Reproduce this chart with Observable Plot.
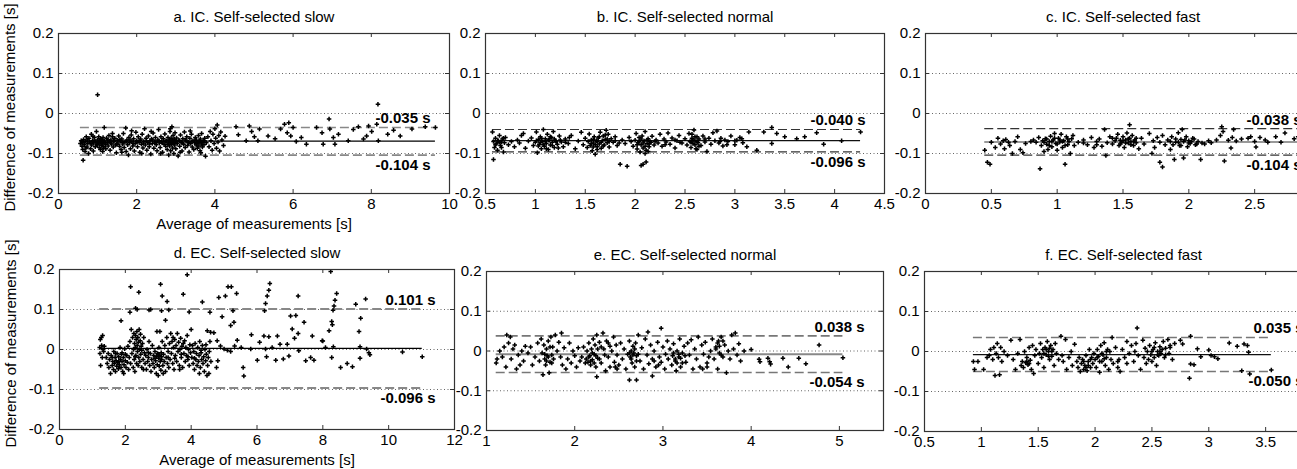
<!DOCTYPE html>
<html><head><meta charset="utf-8">
<script src="https://cdn.jsdelivr.net/npm/d3@7"></script>
<script src="https://cdn.jsdelivr.net/npm/@observablehq/plot@0.6"></script>
<style>
html,body{margin:0;padding:0;background:#fff;overflow:hidden;}
#fig{position:relative;width:1297px;height:469px;overflow:hidden;font-family:"Liberation Sans",Arial,sans-serif;}
#fig svg{position:absolute;overflow:visible;}
</style></head><body><div id="fig"></div>
<script>
// ---------- data ----------
const titles = ["a. IC. Self-selected slow","b. IC. Self-selected normal","c. IC. Self-selected fast",
                "d. EC. Self-selected slow","e. EC. Self-selected normal","f. EC. Self-selected fast"];
const xDomains = [[0,10],[0.5,4.5],[0,3],[0,12],[1,5.5],[0.5,4]];
const xTicks = [[0,2,4,6,8,10],[0.5,1,1.5,2,2.5,3,3.5,4,4.5],[0,0.5,1,1.5,2,2.5,3],
                [0,2,4,6,8,10,12],[1,2,3,4,5],[0.5,1,1.5,2,2.5,3,3.5,4]];
const yTicks = [-0.2,-0.1,0,0.1,0.2];
const gridY = [-0.1,0,0.1];
const upperLoA = [-0.035,-0.040,-0.038,0.101,0.038,0.035];
const lowerLoA = [-0.104,-0.096,-0.104,-0.096,-0.054,-0.050];
const meanDiff = [-0.069,-0.068,-0.071,0.003,-0.008,-0.008];
const upperText = ["-0.035 s","-0.040 s","-0.038 s","0.101 s","0.038 s","0.035 s"];
const lowerText = ["-0.104 s","-0.096 s","-0.104 s","-0.096 s","-0.054 s","-0.050 s"];
const yLabel = "Difference of measurements [s]";
const xLabel = "Average of measurements [s]";

const ptsA = [[1.0,0.047],
[0.56,-0.075],[0.58,-0.068],[0.6,-0.082],[0.61,-0.072],[0.62,-0.09],[0.63,-0.117],[0.64,-0.065],[0.66,-0.078],[0.68,-0.095],[0.7,-0.07],[0.71,-0.058],[0.73,-0.084],[0.75,-0.075],[0.77,-0.1],[0.78,-0.062],[0.8,-0.071],[0.82,-0.088],[0.84,-0.052],[0.85,-0.079],[0.87,-0.068],[0.89,-0.094],[0.9,-0.074],[0.92,-0.06],[0.94,-0.083],[0.95,-0.07],[0.97,-0.045],[0.98,-0.077],[1.0,-0.066],
[1.02,-0.072],[1.03,-0.058],[1.04,-0.085],[1.05,-0.068],[1.06,-0.076],[1.07,-0.09],[1.08,-0.063],[1.09,-0.07],[1.1,-0.08],[1.11,-0.066],[1.12,-0.074],[1.13,-0.095],[1.14,-0.06],[1.15,-0.071],[1.16,-0.083],[1.17,-0.035],[1.18,-0.069],[1.2,-0.077],[1.21,-0.088],[1.23,-0.062],[1.25,-0.073],[1.27,-0.081],[1.29,-0.055],[1.3,-0.069],[1.32,-0.092],[1.34,-0.066],[1.36,-0.076],[1.38,-0.058],[1.4,-0.084],[1.42,-0.07],[1.44,-0.062],[1.46,-0.079],[1.48,-0.098],[1.5,-0.067],
[1.52,-0.074],[1.54,-0.056],[1.56,-0.082],[1.58,-0.069],[1.6,-0.09],[1.62,-0.064],[1.64,-0.076],[1.66,-0.05],[1.68,-0.085],[1.7,-0.071],[1.72,-0.036],[1.73,-0.095],[1.75,-0.066],[1.77,-0.078],[1.79,-0.104],[1.8,-0.06],[1.82,-0.073],[1.84,-0.088],[1.86,-0.054],[1.88,-0.07],[1.9,-0.081],[1.92,-0.063],[1.94,-0.094],[1.96,-0.075],[1.98,-0.047],
[2.0,-0.068],[2.02,-0.083],[2.04,-0.058],[2.06,-0.072],[2.08,-0.097],[2.1,-0.064],[2.12,-0.077],[2.14,-0.052],[2.16,-0.086],[2.18,-0.07],[2.2,-0.038],[2.22,-0.079],[2.24,-0.062],[2.26,-0.092],[2.28,-0.073],[2.3,-0.056],[2.32,-0.083],[2.34,-0.068],[2.36,-0.101],[2.38,-0.064],[2.4,-0.075],[2.42,-0.049],[2.44,-0.087],[2.46,-0.071],[2.48,-0.06],
[2.5,-0.078],[2.52,-0.093],[2.54,-0.066],[2.56,-0.04],[2.58,-0.074],[2.6,-0.085],[2.62,-0.058],[2.64,-0.07],[2.66,-0.097],[2.68,-0.063],[2.7,-0.077],[2.72,-0.051],[2.74,-0.082],[2.76,-0.068],[2.78,-0.09],[2.8,-0.06],[2.81,-0.074],[2.82,-0.104],[2.83,-0.066],[2.84,-0.081],[2.85,-0.045],[2.86,-0.071],[2.87,-0.093],[2.88,-0.062],[2.89,-0.077],[2.9,-0.033],[2.91,-0.069],[2.92,-0.086],[2.93,-0.055],[2.94,-0.073],[2.95,-0.1],[2.96,-0.064],[2.97,-0.079],[2.98,-0.048],[2.99,-0.07],
[3.0,-0.088],[3.02,-0.061],[3.04,-0.075],[3.06,-0.106],[3.08,-0.067],[3.1,-0.082],[3.12,-0.054],[3.14,-0.072],[3.16,-0.094],[3.18,-0.063],[3.2,-0.077],[3.22,-0.046],[3.24,-0.085],[3.26,-0.069],[3.28,-0.058],[3.3,-0.08],[3.32,-0.071],[3.34,-0.096],[3.36,-0.062],[3.38,-0.075],[3.4,-0.052],[3.42,-0.084],[3.44,-0.068],[3.46,-0.09],[3.48,-0.073],
[3.5,-0.06],[3.52,-0.079],[3.53,-0.067],[3.55,-0.087],[3.56,-0.072],[3.58,-0.055],[3.59,-0.081],[3.6,-0.07],[3.62,-0.093],[3.63,-0.064],[3.65,-0.076],[3.66,-0.05],[3.68,-0.084],[3.7,-0.068],[3.72,-0.078],[3.74,-0.062],[3.76,-0.107],[3.78,-0.073],
[3.82,-0.058],[3.85,-0.083],[3.88,-0.045],[3.9,-0.068],[3.93,-0.092],[3.95,-0.052],[3.98,-0.075],[4.0,-0.038],[4.02,-0.062],[4.04,-0.087],[4.06,-0.029],[4.08,-0.071],[4.1,-0.055],[4.12,-0.094],[4.15,-0.046],[4.18,-0.066],[4.22,-0.08],[4.26,-0.057],
[0.65,-0.071],[0.74,-0.066],[0.83,-0.075],[0.91,-0.068],[0.99,-0.079],[1.06,-0.07],[1.12,-0.067],[1.19,-0.073],[1.26,-0.066],[1.33,-0.074],[1.41,-0.069],[1.49,-0.077],[1.57,-0.065],[1.65,-0.072],[1.74,-0.07],[1.83,-0.066],[1.91,-0.075],[2.01,-0.071],[2.09,-0.067],[2.17,-0.074],[2.25,-0.069],[2.33,-0.076],[2.41,-0.066],[2.49,-0.072],[2.57,-0.068],[2.65,-0.074],[2.73,-0.07],[2.8,-0.077],[2.84,-0.068],[2.88,-0.072],[2.92,-0.066],[2.96,-0.075],[3.01,-0.07],[3.09,-0.068],[3.17,-0.074],[3.25,-0.066],[3.33,-0.073],[3.41,-0.07],[3.49,-0.067],[3.54,-0.075],[3.61,-0.069],[3.67,-0.073],[3.73,-0.068],[0.7,-0.086],[0.88,-0.057],[1.15,-0.087],[1.38,-0.05],[1.62,-0.097],[1.87,-0.043],[2.13,-0.1],[2.37,-0.045],[2.61,-0.1],[2.86,-0.038],[3.11,-0.097],[3.37,-0.044],[3.64,-0.098],
[4.54,-0.033],[4.6,-0.053],[4.8,-0.068],[4.88,-0.031],[4.94,-0.045],[5.01,-0.058],[5.1,-0.068],[5.14,-0.039],[5.36,-0.056],[5.54,-0.063],[5.68,-0.039],[5.78,-0.027],[5.85,-0.048],[5.89,-0.023],[5.94,-0.056],[6.0,-0.035],[6.08,-0.07],[6.21,-0.06],[6.34,-0.077],[6.6,-0.035],[6.74,-0.048],[6.77,-0.077],[6.92,-0.014],[6.94,-0.039],[7.03,-0.06],[7.07,-0.077],[7.16,-0.052],[7.41,-0.068],[7.54,-0.04],[7.67,-0.033],[7.8,-0.064],[7.88,-0.056],[7.93,-0.031],[8.01,-0.045],[8.14,-0.027],[8.17,0.023],[8.18,-0.068],[8.42,-0.052],[8.57,-0.042],[8.74,-0.056],[9.04,-0.039],[9.38,-0.033],[9.64,-0.035]];

const ptsB = [[0.58,-0.115],
[0.57,-0.046],[0.58,-0.07],[0.59,-0.085],[0.6,-0.062],[0.61,-0.075],[0.62,-0.092],[0.63,-0.068],[0.64,-0.055],[0.65,-0.08],[0.66,-0.071],[0.67,-0.064],[0.68,-0.096],[0.69,-0.073],[0.7,-0.06],[0.73,-0.078],[0.76,-0.07],[0.79,-0.083],[0.82,-0.066],[0.84,-0.074],[0.86,-0.055],[0.88,-0.05],[0.9,-0.087],[0.93,-0.069],[0.96,-0.061],[0.98,-0.08],[1.0,-0.072],[1.01,-0.046],[1.02,-0.098],[1.03,-0.065],[1.04,-0.077],[1.05,-0.058],[1.06,-0.088],[1.07,-0.07],[1.08,-0.04],[1.09,-0.082],[1.1,-0.063],[1.11,-0.075],[1.12,-0.052],[1.13,-0.09],[1.14,-0.067],[1.15,-0.079],[1.16,-0.06],[1.17,-0.072],[1.18,-0.045],[1.19,-0.085],[1.2,-0.068],[1.22,-0.077],[1.24,-0.056],[1.26,-0.071],[1.28,-0.083],[1.3,-0.064],[1.33,-0.075],[1.36,-0.055],[1.4,-0.088],[1.43,-0.069],[1.46,-0.047],[1.48,-0.078],[1.5,-0.062],[1.52,-0.085],[1.53,-0.07],[1.54,-0.051],[1.55,-0.08],[1.56,-0.066],[1.57,-0.093],[1.58,-0.074],[1.59,-0.058],[1.6,-0.102],[1.61,-0.069],[1.62,-0.083],[1.63,-0.061],[1.64,-0.076],[1.65,-0.047],[1.66,-0.087],[1.67,-0.068],[1.68,-0.056],[1.69,-0.079],[1.7,-0.065],[1.71,-0.042],[1.72,-0.073],[1.73,-0.052],[1.74,-0.084],[1.76,-0.063],[1.78,-0.072],[1.8,-0.058],[1.82,-0.08],[1.85,-0.127],[1.87,-0.066],[1.9,-0.075],[1.92,-0.132],[1.94,-0.06],[1.96,-0.07],[1.98,-0.082],[2.0,-0.067],[2.01,-0.05],[2.02,-0.089],[2.03,-0.073],[2.04,-0.06],[2.05,-0.096],[2.06,-0.13],[2.06,-0.078],[2.07,-0.056],[2.08,-0.127],[2.08,-0.086],[2.09,-0.069],[2.1,-0.045],[2.11,-0.121],[2.11,-0.092],[2.12,-0.075],[2.13,-0.063],[2.14,-0.083],[2.15,-0.07],[2.17,-0.057],[2.19,-0.079],[2.21,-0.066],[2.23,-0.074],[2.25,-0.052],[2.27,-0.082],[2.29,-0.064],[2.31,-0.071],[2.33,-0.049],[2.35,-0.077],[2.37,-0.061],[2.4,-0.086],[2.42,-0.068],[2.44,-0.055],[2.47,-0.074],[2.5,-0.063],[2.52,-0.079],[2.54,-0.05],[2.55,-0.07],[2.56,-0.085],[2.57,-0.062],[2.58,-0.075],[2.59,-0.041],[2.6,-0.068],[2.61,-0.088],[2.62,-0.058],[2.63,-0.073],[2.64,-0.064],[2.66,-0.08],[2.68,-0.056],[2.7,-0.071],[2.72,-0.095],[2.74,-0.062],[2.76,-0.077],[2.78,-0.048],[2.8,-0.068],[2.82,-0.044],[2.84,-0.074],[2.86,-0.062],[2.88,-0.081],[2.9,-0.066],[2.93,-0.07],[2.96,-0.056],[3.0,-0.078],[3.02,-0.067],[3.05,-0.06],[3.07,-0.063],[3.08,-0.073],[3.12,-0.083],[3.14,-0.046],[3.22,-0.092],[3.29,-0.046],[3.37,-0.035],[3.37,-0.075],[3.42,-0.05],[3.5,-0.058],[3.62,-0.063],[3.7,-0.058],[3.82,-0.048],[3.89,-0.077],[4.07,-0.068],[4.26,-0.046],
[1.01,-0.068],[1.03,-0.081],[1.05,-0.072],[1.06,-0.062],[1.08,-0.078],[1.1,-0.07],[1.11,-0.088],[1.13,-0.066],[1.15,-0.058],[1.17,-0.08],[1.19,-0.064],[1.21,-0.07],[1.23,-0.086],[1.25,-0.066],[1.56,-0.075],[1.58,-0.065],[1.6,-0.078],[1.62,-0.07],[1.64,-0.058],[1.66,-0.072],[1.68,-0.081],[1.7,-0.054],[1.72,-0.064],[1.74,-0.07],[1.62,-0.09],[1.58,-0.084],[2.02,-0.078],[2.04,-0.07],[2.06,-0.064],[2.08,-0.074],[2.1,-0.082],[2.12,-0.066],[2.14,-0.076],[2.1,-0.1],[2.13,-0.095],[2.16,-0.072],[2.56,-0.072],[2.58,-0.066],[2.6,-0.078],[2.62,-0.07],[2.64,-0.082],[2.6,-0.058],[2.57,-0.052],[2.62,-0.09],[0.6,-0.078],[0.62,-0.068],[0.64,-0.072],[0.66,-0.085],[0.68,-0.062],[1.3,-0.072],[1.34,-0.06],[1.8,-0.068],[1.84,-0.074],[2.2,-0.07],[2.3,-0.078],[2.4,-0.066],[2.45,-0.072],[2.7,-0.064],[2.85,-0.07],[2.92,-0.078],[3.0,-0.068]];

const ptsC = [[0.45,-0.092],[0.47,-0.122],[0.49,-0.127],[0.5,-0.072],[0.53,-0.085],[0.55,-0.062],[0.57,-0.076],[0.59,-0.068],[0.6,-0.088],[0.61,-0.065],[0.63,-0.072],[0.64,-0.08],[0.66,-0.1],[0.68,-0.07],[0.7,-0.058],[0.72,-0.09],[0.74,-0.098],[0.76,-0.075],[0.82,-0.066],[0.84,-0.072],[0.86,-0.06],[0.87,-0.138],[0.88,-0.08],[0.89,-0.068],[0.9,-0.095],[0.91,-0.063],[0.92,-0.077],[0.93,-0.09],[0.94,-0.07],[0.95,-0.057],[0.96,-0.083],[0.97,-0.066],[0.98,-0.05],[0.99,-0.075],[1.0,-0.092],[1.01,-0.062],[1.02,-0.071],[1.03,-0.052],[1.04,-0.085],[1.05,-0.068],[1.06,-0.127],[1.07,-0.058],[1.08,-0.078],[1.09,-0.07],[1.1,-0.1],[1.11,-0.063],[1.12,-0.055],[1.13,-0.08],[1.16,-0.072],[1.2,-0.066],[1.23,-0.078],[1.26,-0.06],[1.28,-0.085],[1.3,-0.07],[1.32,-0.064],[1.34,-0.082],[1.36,-0.04],[1.37,-0.105],[1.38,-0.073],[1.4,-0.058],[1.42,-0.076],[1.44,-0.068],[1.45,-0.062],[1.46,-0.052],[1.47,-0.08],[1.48,-0.067],[1.49,-0.072],[1.5,-0.058],[1.51,-0.085],[1.52,-0.066],[1.53,-0.049],[1.54,-0.074],[1.55,-0.028],[1.55,-0.062],[1.56,-0.07],[1.57,-0.055],[1.58,-0.08],[1.59,-0.066],[1.6,-0.073],[1.62,-0.088],[1.64,-0.062],[1.66,-0.076],[1.7,-0.05],[1.72,-0.1],[1.73,-0.068],[1.74,-0.085],[1.76,-0.06],[1.78,-0.122],[1.78,-0.072],[1.8,-0.134],[1.8,-0.055],[1.82,-0.078],[1.84,-0.066],[1.86,-0.09],[1.87,-0.058],[1.89,-0.115],[1.9,-0.072],[1.92,-0.048],[1.93,-0.08],[1.94,-0.065],[1.95,-0.04],[1.96,-0.111],[1.96,-0.07],[1.98,-0.058],[1.99,-0.083],[2.0,-0.068],[2.01,-0.075],[2.03,-0.062],[2.05,-0.078],[2.07,-0.07],[2.09,-0.115],[2.1,-0.074],[2.12,-0.076],[2.17,-0.073],[2.21,-0.066],[2.24,-0.055],[2.25,-0.033],[2.26,-0.045],[2.27,-0.119],[2.3,-0.067],[2.32,-0.086],[2.33,-0.06],[2.34,-0.04],[2.36,-0.069],[2.45,-0.062],[2.47,-0.058],[2.5,-0.07],[2.51,-0.084],[2.54,-0.06],[2.6,-0.072],[2.66,-0.058],[2.73,-0.049],[2.8,-0.063],[2.83,-0.058],[2.86,-0.055],[2.88,-0.065],[2.9,-0.06],
[0.9,-0.072],[0.92,-0.064],[0.94,-0.08],[0.96,-0.07],[0.98,-0.062],[1.0,-0.076],[1.02,-0.066],[1.04,-0.07],[1.06,-0.08],[1.08,-0.064],[1.48,-0.076],[1.5,-0.068],[1.52,-0.074],[1.54,-0.064],[1.56,-0.078],[1.58,-0.07],[1.6,-0.062],[1.86,-0.07],[1.88,-0.078],[1.9,-0.064],[1.92,-0.072],[1.94,-0.08],[1.97,-0.066],[2.0,-0.074],[2.02,-0.07],[2.04,-0.064],[2.06,-0.076],[1.42,-0.062],[1.3,-0.078],[1.2,-0.074],[0.8,-0.07],[2.15,-0.068],[2.4,-0.064],[2.58,-0.066],[2.7,-0.072]];

const ptsD = [[1.22,0.005],[1.23,-0.01],[1.24,0.025],[1.25,-0.04],[1.27,0.03],[1.28,0.01],[1.3,-0.02],[1.31,0.035],[1.32,0.0],[1.34,-0.005],[1.36,0.008],
[1.42,-0.02],[1.45,-0.035],[1.48,-0.01],[1.5,-0.045],[1.52,-0.025],[1.55,-0.06],[1.57,-0.015],[1.6,-0.04],[1.62,-0.03],[1.64,-0.05],[1.65,-0.005],[1.67,-0.035],[1.69,-0.02],[1.7,-0.055],[1.72,-0.028],[1.74,-0.042],[1.75,-0.01],[1.77,-0.032],[1.79,-0.048],[1.8,-0.018],[1.82,-0.038],[1.84,0.005],[1.85,-0.025],[1.87,-0.045],[1.88,-0.012],[1.9,-0.03],[1.92,-0.055],[1.94,-0.02],[1.96,-0.038],[1.98,0.002],[2.0,-0.028],[2.02,-0.045],[2.04,-0.015],[2.06,-0.032],[2.08,0.008],[2.1,-0.05],
[2.12,-0.02],[2.14,0.02],[2.16,-0.035],[2.18,0.05],[2.2,-0.01],[2.22,0.03],[2.24,-0.045],[2.25,0.0],[2.26,0.04],[2.27,-0.025],[2.28,0.015],[2.29,-0.055],[2.3,0.005],[2.31,0.035],[2.32,-0.015],[2.33,0.025],[2.34,-0.035],[2.35,0.045],[2.36,0.01],[2.37,-0.005],[2.38,0.03],[2.39,-0.04],[2.4,0.018],[2.41,-0.02],[2.42,0.05],[2.43,0.0],[2.44,-0.03],[2.45,0.022],[2.46,0.038],[2.47,-0.012],[2.48,0.008],[2.5,-0.045],[2.52,0.015],[2.54,-0.025],[2.56,0.03],[2.58,-0.008],[2.6,-0.035],
[2.62,-0.015],[2.64,-0.05],[2.66,0.0],[2.68,-0.03],[2.7,-0.02],[2.72,0.02],[2.74,-0.04],[2.76,-0.01],[2.78,-0.055],[2.8,-0.025],[2.82,0.01],[2.84,-0.035],[2.86,-0.015],[2.88,-0.045],[2.9,-0.005],[2.92,-0.028],[2.94,-0.06],[2.95,-0.018],[2.96,0.045],[2.97,-0.038],[2.98,-0.01],[3.0,-0.065],[3.01,-0.022],[3.02,0.005],[3.03,-0.042],[3.04,-0.015],[3.05,0.045],[3.06,-0.03],[3.08,-0.052],[3.09,-0.008],[3.1,-0.025],[3.12,0.02],[3.14,-0.04],[3.16,-0.012],[3.18,-0.03],[3.2,0.01],[3.22,-0.055],[3.24,-0.02],[3.26,0.03],[3.28,-0.035],[3.3,-0.005],[3.32,-0.045],[3.34,0.015],[3.36,-0.025],[3.38,0.04],
[3.4,-0.01],[3.42,0.02],[3.44,-0.035],[3.46,0.005],[3.48,-0.05],[3.5,0.025],[3.52,-0.015],[3.54,0.01],[3.56,-0.03],[3.58,0.04],[3.6,-0.005],[3.62,0.018],[3.64,-0.04],[3.66,0.0],[3.68,0.028],[3.7,-0.02],[3.72,0.008],[3.74,-0.045],[3.76,0.015],[3.78,-0.01],[3.8,0.022],[3.82,-0.03],[3.84,0.005],[3.86,-0.015],[3.88,0.035],[3.9,-0.025],[3.92,0.0],[3.94,-0.04],[3.96,0.012],[3.98,-0.008],[4.0,0.05],
[4.02,-0.02],[4.04,0.01],[4.06,-0.035],[4.08,-0.005],[4.1,-0.05],[4.12,0.015],[4.14,-0.025],[4.16,-0.01],[4.18,-0.04],[4.2,0.005],[4.22,-0.03],[4.24,-0.015],[4.26,0.02],[4.28,-0.045],[4.3,-0.008],[4.32,-0.025],[4.34,0.01],[4.36,-0.035],[4.38,-0.018],[4.4,-0.055],[4.42,0.0],[4.44,-0.028],[4.46,-0.012],[4.48,-0.065],[4.5,-0.04],[4.52,-0.02],[4.54,-0.06],[4.55,-0.005],[4.57,0.02],[4.6,-0.03],
[1.6,-0.02],[1.7,-0.01],[1.8,-0.03],[1.9,-0.008],[2.0,-0.012],[2.3,-0.018],[2.5,-0.002],[2.7,-0.008],[2.9,-0.022],[3.0,-0.012],[3.1,-0.018],[3.3,-0.02],[3.5,-0.022],[3.7,-0.012],[3.9,-0.018],[4.1,-0.022],[4.3,-0.002],[4.45,0.012],[3.15,-0.06],[2.55,-0.05],[1.95,-0.06],[3.45,0.03],[3.65,-0.05],[4.25,-0.06],
[1.87,0.072],[2.16,0.157],[2.14,0.093],[2.31,0.103],[2.36,0.1],[2.41,0.143],[2.72,0.099],[2.77,0.1],[3.07,0.163],[3.12,0.134],[3.1,0.097],[3.27,0.12],[3.32,0.099],[3.22,0.073],[3.76,0.138],[3.88,0.187],[3.94,0.094],[4.34,0.119],[4.57,0.093],[4.84,0.13],[4.94,0.082],[5.04,0.134],[5.12,0.157],[5.22,0.157],[5.27,0.097],[5.38,0.14],[5.2,0.06],[5.3,0.068],[5.4,0.023],[5.52,0.005],[5.58,-0.045],[5.6,-0.066],[5.83,0.037],[5.81,0.001],[6.01,-0.027],[6.08,0.018],[6.21,0.034],[6.26,0.115],[6.23,0.097],[6.31,0.134],[6.36,0.148],[6.39,0.165],[6.26,0.001],[6.29,-0.018],[6.36,0.032],[6.46,0.005],[6.57,-0.027],[6.62,0.034],[6.8,-0.024],[6.7,0.013],[6.92,0.013],[6.97,-0.016],[7.02,0.084],[7.07,0.051],[7.14,0.028],[7.18,0.085],[7.25,0.134],[7.25,0.04],[7.27,-0.003],[7.43,0.068],[7.48,-0.028],[7.63,-0.02],[7.68,0.034],[7.73,-0.027],[7.98,0.022],[8.0,0.021],[8.08,0.005],[8.19,0.047],[8.24,0.195],[8.27,0.07],[8.29,0.062],[8.31,0.098],[8.34,0.109],[8.37,0.123],[8.42,0.14],[8.27,-0.02],[8.32,0.007],[8.74,-0.035],[8.54,-0.045],[8.9,-0.043],[9.0,0.113],[9.3,0.126],[9.1,0.045],[9.13,0.007],[9.15,0.078],[9.13,-0.022],[9.33,0.001],[9.4,-0.008],[9.43,-0.013],[10.42,-0.006],[11.02,-0.018],
[4.59,0.043],[4.69,0.042],[4.79,0.022],[4.89,0.009],[4.77,-0.045],[4.81,-0.028],[4.49,0.047],[5.0,0.001],[5.1,-0.002],[5.2,-0.005],[5.32,0.009]];

const ptsE = [[1.11,-0.03],[1.12,-0.02],[1.15,0.0],[1.18,-0.015],[1.2,0.01],[1.22,-0.04],[1.23,0.04],[1.25,0.02],[1.27,0.035],[1.28,-0.02],[1.3,0.005],[1.32,0.015],[1.34,-0.045],[1.36,-0.01],[1.38,-0.035],[1.4,0.0],[1.42,-0.025],[1.44,0.012],[1.47,-0.005],[1.5,0.01],[1.52,-0.035],[1.55,-0.015],[1.58,0.02],[1.6,-0.025],[1.62,0.03],[1.63,-0.005],[1.64,-0.06],[1.65,0.015],[1.66,-0.02],[1.67,-0.035],[1.68,0.005],[1.69,-0.012],[1.7,0.025],[1.71,-0.055],[1.72,-0.028],[1.73,0.035],[1.74,-0.01],[1.75,0.01],[1.76,-0.02],[1.78,0.04],[1.8,0.0],[1.82,0.022],[1.84,-0.015],[1.85,0.045],[1.86,-0.035],[1.88,0.008],[1.9,-0.045],[1.92,-0.02],[1.94,0.02],[1.96,-0.03],[1.98,0.0],[2.0,-0.012],[2.02,-0.04],[2.04,0.008],[2.06,-0.025],[2.08,-0.015],[2.1,0.01],[2.12,-0.03],[2.13,-0.02],[2.14,0.0],[2.15,-0.028],[2.16,0.02],[2.17,-0.012],[2.18,-0.035],[2.19,0.005],[2.2,-0.022],[2.21,0.03],[2.22,-0.008],[2.23,0.015],[2.24,-0.04],[2.25,0.04],[2.25,-0.065],[2.26,-0.018],[2.28,0.022],[2.3,-0.03],[2.32,0.045],[2.33,0.005],[2.35,-0.05],[2.36,0.025],[2.38,-0.015],[2.4,-0.04],[2.42,0.0],[2.44,0.035],[2.45,-0.028],[2.47,0.015],[2.48,-0.01],[2.5,-0.035],[2.52,0.02],[2.54,-0.02],[2.56,0.005],[2.58,-0.045],[2.6,-0.008],[2.62,0.025],[2.62,-0.073],[2.63,-0.015],[2.64,0.0],[2.65,-0.03],[2.66,0.012],[2.67,-0.005],[2.68,-0.04],[2.69,0.02],[2.7,-0.073],[2.7,-0.012],[2.72,0.04],[2.74,-0.025],[2.76,0.008],[2.78,-0.045],[2.8,0.03],[2.82,-0.01],[2.83,0.048],[2.84,-0.032],[2.86,0.015],[2.88,-0.063],[2.88,-0.02],[2.9,0.0],[2.92,-0.04],[2.94,0.022],[2.96,-0.015],[2.98,0.057],[2.98,-0.028],[3.0,0.01],[3.02,-0.045],[3.03,-0.008],[3.05,0.025],[3.06,-0.02],[3.08,0.005],[3.1,-0.035],[3.11,-0.012],[3.12,0.018],[3.14,-0.025],[3.15,-0.05],[3.16,0.0],[3.18,-0.015],[3.19,0.03],[3.2,-0.04],[3.22,-0.005],[3.24,0.012],[3.26,-0.028],[3.28,0.02],[3.3,-0.01],[3.32,0.028],[3.34,-0.045],[3.36,0.005],[3.38,-0.02],[3.4,0.035],[3.42,-0.04],[3.44,0.015],[3.46,-0.008],[3.48,0.022],[3.5,-0.03],[3.52,-0.015],[3.54,0.0],[3.56,0.03],[3.58,-0.02],[3.6,0.01],[3.62,-0.045],[3.63,0.025],[3.64,-0.005],[3.66,0.035],[3.68,-0.015],[3.7,0.015],[3.72,-0.055],[3.74,0.0],[3.76,-0.02],[3.78,0.04],[3.8,0.005],[3.82,0.045],[3.84,-0.01],[3.86,0.018],[3.88,-0.025],[3.92,0.0],
[4.0,0.004],[4.09,-0.021],[4.1,-0.027],[4.19,-0.018],[4.21,-0.027],[4.22,-0.033],[4.36,-0.018],[4.42,-0.04],[4.54,-0.018],[4.62,-0.032],[4.77,0.015],[5.04,-0.017],
[1.66,-0.008],[1.68,-0.025],[1.7,-0.015],[1.72,0.01],[1.74,-0.03],[2.16,-0.015],[2.18,-0.025],[2.2,-0.005],[2.22,-0.03],[2.24,-0.012],[2.26,0.005],[2.28,-0.02],[2.3,0.01],[2.34,-0.01],[2.38,0.02],[2.4,0.012],[2.46,-0.04],[2.48,-0.045],[2.62,-0.005],[2.64,-0.02],[2.66,-0.01],[2.68,0.005],[2.7,-0.025],[2.72,-0.008],[2.9,-0.025],[2.95,-0.035],[3.12,-0.005],[3.14,-0.02],[3.16,-0.03],[3.18,-0.008],[3.2,-0.018],[3.22,-0.03],[3.25,-0.012],[3.6,0.005],[3.62,0.02],[3.64,0.012],[3.66,-0.01],[3.68,0.025],[3.45,-0.045],[3.5,-0.04]];

const ptsF = [[0.93,-0.025],[0.94,-0.045],[0.97,-0.025],[1.02,-0.045],[1.05,-0.015],[1.07,-0.01],[1.08,0.005],[1.1,-0.02],[1.11,0.01],[1.12,-0.06],[1.13,-0.005],[1.14,0.02],[1.15,-0.015],[1.16,-0.058],[1.17,0.01],[1.18,-0.025],[1.2,0.0],[1.23,-0.01],[1.26,0.028],[1.28,-0.02],[1.3,-0.045],[1.32,-0.005],[1.34,0.03],[1.35,-0.035],[1.36,-0.025],[1.37,-0.04],[1.38,0.0],[1.39,-0.028],[1.4,-0.015],[1.41,-0.033],[1.42,0.01],[1.43,-0.022],[1.44,-0.045],[1.45,0.015],[1.46,-0.055],[1.47,-0.01],[1.48,0.005],[1.5,-0.03],[1.51,-0.005],[1.52,0.02],[1.53,-0.015],[1.54,0.005],[1.55,-0.04],[1.56,0.01],[1.57,-0.008],[1.58,0.025],[1.59,0.0],[1.6,-0.02],[1.61,0.015],[1.62,-0.012],[1.63,0.005],[1.64,-0.035],[1.65,0.02],[1.66,-0.005],[1.68,-0.02],[1.7,0.038],[1.71,-0.01],[1.72,-0.025],[1.74,0.03],[1.75,-0.045],[1.77,-0.015],[1.79,0.0],[1.8,-0.035],[1.82,0.018],[1.84,-0.025],[1.85,-0.04],[1.86,-0.015],[1.87,-0.05],[1.88,-0.03],[1.89,-0.02],[1.9,-0.045],[1.91,-0.035],[1.92,-0.01],[1.93,-0.048],[1.94,-0.025],[1.95,0.005],[1.96,-0.04],[1.97,-0.015],[1.98,-0.03],[1.99,-0.005],[2.0,-0.02],[2.01,-0.04],[2.02,0.005],[2.03,-0.012],[2.04,-0.052],[2.05,0.015],[2.06,-0.025],[2.07,-0.008],[2.08,0.022],[2.09,-0.035],[2.1,-0.015],[2.11,0.005],[2.12,-0.045],[2.13,0.0],[2.14,-0.02],[2.15,0.035],[2.16,-0.03],[2.18,0.01],[2.2,-0.04],[2.21,-0.02],[2.22,-0.05],[2.24,0.005],[2.26,-0.015],[2.28,0.025],[2.3,-0.005],[2.32,0.015],[2.34,-0.025],[2.35,0.0],[2.36,0.02],[2.37,0.059],[2.38,-0.01],[2.4,-0.045],[2.42,0.028],[2.43,-0.015],[2.44,0.008],[2.45,-0.03],[2.46,0.0],[2.47,-0.02],[2.48,0.015],[2.49,-0.008],[2.5,-0.025],[2.51,0.005],[2.52,-0.015],[2.53,0.022],[2.54,-0.035],[2.55,0.0],[2.56,-0.01],[2.57,0.012],[2.58,-0.005],[2.6,0.025],[2.61,-0.015],[2.62,0.008],[2.64,0.03],[2.65,-0.005],[2.66,0.015],[2.68,-0.02],[2.7,0.02],
[2.75,0.028],[2.77,0.019],[2.84,0.038],[2.9,0.007],[2.83,-0.067],[2.84,-0.031],[2.87,-0.033],[2.93,-0.013],[3.0,0.004],[3.02,-0.01],[3.05,-0.013],[3.08,-0.018],[3.18,0.021],[3.25,0.013],[3.31,0.019],[3.34,0.015],[3.35,-0.002],[3.29,-0.048],[3.36,-0.056],[3.55,-0.046],
[1.55,-0.005],[1.57,0.005],[1.59,-0.012],[1.6,0.008],[1.62,0.0],[1.4,-0.025],[1.42,-0.03],[1.9,-0.025],[1.92,-0.04],[1.94,-0.035],[1.96,-0.02],[2.02,-0.015],[2.04,-0.025],[2.06,-0.005],[2.08,-0.018],[2.1,0.0],[2.55,-0.008],[2.57,0.0],[2.59,0.005],[2.5,0.0],[2.52,0.01],[2.62,-0.008],[2.66,0.01],[2.28,-0.03],[2.2,-0.025]];

const points = [ptsA, ptsB, ptsC, ptsD, ptsE, ptsF];

// ---------- styling / layout ----------
const frames = [
  {left:58, top:33, w:391, h:160}, {left:485, top:33, w:399, h:160}, {left:925, top:33, w:395, h:160},
  {left:59, top:269, w:395, h:160}, {left:486, top:271, w:397, h:159}, {left:924, top:271, w:398, h:160}];
const meanStyle = [["#000",1.2],["#111",1.2],["#777",1.5],["#000",1.2],["#888",2],["#111",1.2]];
const dashStyle = [["#888",1.6],["#333",1.2],["#333",1.2],["#888",2],["#777",1.6],["#777",1.6]];
const FS = 15;
const fig = document.getElementById("fig");

points.forEach((pts, i) => {
  const F = frames[i];
  const mL = 60, mT = 40, mR = 30, mB = 44;
  const [xmin, xmax] = d3.extent(pts, d => d[0]);
  const lines = [{y: upperLoA[i], x1: xmin, x2: xmax}, {y: lowerLoA[i], x1: xmin, x2: xmax}];
  const marks = [
    Plot.ruleY(gridY, {stroke: "#666", strokeDasharray: "1,2.5", strokeWidth: 1}),
    Plot.ruleY(lines, {y: "y", x1: "x1", x2: "x2", stroke: dashStyle[i][0], strokeWidth: dashStyle[i][1], strokeDasharray: "9,4"}),
    Plot.ruleY([{y: meanDiff[i], x1: xmin, x2: xmax}], {y: "y", x1: "x1", x2: "x2", stroke: meanStyle[i][0], strokeWidth: meanStyle[i][1]}),
    Plot.dot(pts, {x: d => d[0], y: d => d[1], symbol: "cross", r: 1.9, fill: "#000", stroke: "none"}),
    Plot.tickX(xTicks[i], {x: d => d, insetTop: F.h - 4, stroke: "#333"}),
    Plot.tickX(xTicks[i], {x: d => d, insetBottom: F.h - 4, stroke: "#333"}),
    Plot.tickY(yTicks, {y: d => d, insetRight: F.w - 4, stroke: "#333"}),
    Plot.tickY(yTicks, {y: d => d, insetLeft: F.w - 4, stroke: "#333"}),
    Plot.axisX(xTicks[i], {tickSize: 0, tickPadding: 5, tickFormat: d => String(d), fontSize: FS, label: null}),
    Plot.axisY(yTicks, {tickSize: 0, tickPadding: 5, tickFormat: d => String(d), fontSize: FS, label: null}),
    Plot.frame({stroke: "#333", strokeWidth: 1.2}),
    Plot.text([titles[i]], {text: d => d, frameAnchor: "top", textAnchor: "middle", lineAnchor: "middle", dy: -16, fontSize: FS}),
    Plot.text([{y: upperLoA[i], t: upperText[i]}], {y: "y", text: "t", frameAnchor: "right", textAnchor: "end", lineAnchor: "middle", dx: -19, dy: -9, fontWeight: "bold", fontSize: FS}),
    Plot.text([{y: lowerLoA[i], t: lowerText[i]}], {y: "y", text: "t", frameAnchor: "right", textAnchor: "end", lineAnchor: "middle", dx: -19, dy: 10, fontWeight: "bold", fontSize: FS})
  ];
  if (i === 0 || i === 3) {
    marks.push(Plot.text([yLabel], {text: d => d, frameAnchor: "left", rotate: -90, textAnchor: "middle", lineAnchor: "middle", dx: -48, dy: -6, fontSize: FS}));
    marks.push(Plot.text([xLabel], {text: d => d, frameAnchor: "bottom", textAnchor: "middle", lineAnchor: "middle", dy: 31, fontSize: FS}));
  }
  const svg = Plot.plot({
    width: F.w + mL + mR, height: F.h + mT + mB,
    marginLeft: mL, marginRight: mR, marginTop: mT, marginBottom: mB,
    x: {domain: xDomains[i]}, y: {domain: [-0.2, 0.2]},
    style: {fontFamily: '"Liberation Sans", Arial, sans-serif', fontSize: FS + "px", color: "#000", background: "transparent", overflow: "visible"},
    marks
  });
  svg.style.left = (F.left - mL) + "px";
  svg.style.top = (F.top - mT) + "px";
  fig.appendChild(svg);
});
</script>
</body></html>
